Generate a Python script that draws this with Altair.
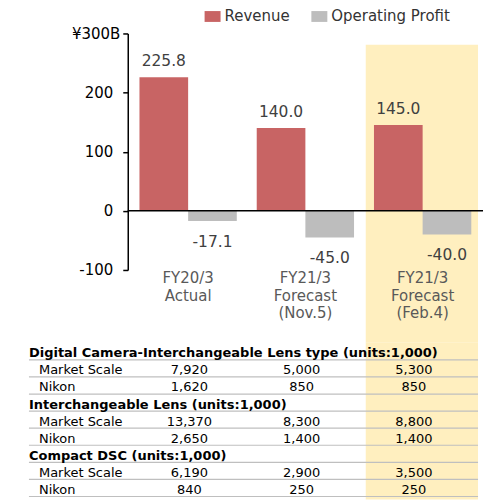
import altair as alt
import pandas as pd

# ---------------- data ----------------
periods = ["FY20/3\nActual", "FY21/3\nForecast\n(Nov.5)", "FY21/3\nForecast\n(Feb.4)"]
series = ["Revenue", "Operating Profit"]
revenue = [225.8, 140.0, 145.0]
operating_profit = [-17.1, -45.0, -40.0]
y_ticks = [-100, 0, 100, 200, 300]
y_top_label = "¥300B"
highlight_period = periods[2]
highlight_top = 281

sections = ["Digital Camera-Interchangeable Lens type", "Interchangeable Lens", "Compact DSC"]
units_note = "(units:1,000)"
sub_rows = ["Market Scale", "Nikon"]
market_scale = [[7920, 5000, 5300], [13370, 8300, 8800], [6190, 2900, 3500]]
nikon_units = [[1620, 850, 850], [2650, 1400, 1400], [840, 250, 250]]

# ---------------- styles ----------------
FONT = "DejaVu Sans"
bar_colors = ["#C86464", "#BDBDBD"]
yellow = "#FFEFBF"
line_gray = "#BFBFBF"
W, H = 356, 237

bars_df = pd.DataFrame({
    "period": periods * 2,
    "series": [series[0]] * len(periods) + [series[1]] * len(periods),
    "value": revenue + operating_profit,
})

rows = []
r = 0
for s, name in enumerate(sections):
    rows.append({"row": r, "kind": "header", "col": "label", "text": f"{name} {units_note}"})
    r += 1
    for label, vals in zip(sub_rows, [market_scale[s], nikon_units[s]]):
        rows.append({"row": r, "kind": "sub", "col": "label", "text": label})
        for p, v in zip(periods, vals):
            rows.append({"row": r, "kind": "num", "col": p, "text": f"{v:,}"})
        r += 1
table_df = pd.DataFrame(rows)
row_ids = list(range(r))
cols = ["label"] + periods

hl_df = pd.DataFrame({"col": [highlight_period]})
zero_df = pd.DataFrame({"base": [0]})
rows_df = pd.DataFrame({"row": row_ids})

col_scale = alt.Scale(domain=cols, range=[-99, 351], paddingInner=0, paddingOuter=0)
row_scale = alt.Scale(domain=row_ids, paddingInner=0, paddingOuter=0)

# ---------------- top: bar chart ----------------
y_scale = alt.Scale(domain=[-100, 300], nice=False, zero=False)
y_axis = alt.Axis(
    title=None, values=y_ticks, grid=False,
    labelExpr=f"datum.value == 300 ? '{y_top_label}' : datum.label",
    domainColor="black", domainWidth=1.5, tickColor="black", tickSize=5, tickWidth=1.5,
    labelColor="black", labelFont=FONT, labelFontSize=15,
    labelPadding={"condition": {"test": "datum.value == 300", "value": 3}, "value": 10},
)
x_enc = alt.X(
    "period:N", sort=periods,
    scale=alt.Scale(domain=periods, paddingInner=0.17, paddingOuter=0.1),
    axis=alt.Axis(
        title=None, labelExpr="split(datum.label, '\\n')", labelAngle=0,
        labelFont=FONT, labelFontSize=15, labelColor="#595959", labelLineHeight=17.5,
        labelPadding=1, ticks=False, tickSize=0, domain=False,
        labelOverlap=False, labelBound=False, labelFlush=False, zindex=2,
    ),
)
xoff = alt.XOffset("series:N", scale=alt.Scale(domain=series, paddingInner=0, paddingOuter=0))

legend = alt.Legend(
    title=None, orient="none", legendX=77, legendY=-25, direction="horizontal",
    symbolType="M-1,-0.68L1,-0.68L1,0.68L-1,0.68Z", symbolSize=256, symbolStrokeWidth=0,
    labelFont=FONT, labelFontSize=15, labelColor="#333333", columnPadding=21,
    labelOffset=4, padding=0,
)

hl_top = alt.Chart(hl_df).mark_rect(color=yellow).encode(
    x=alt.X("col:N", scale=col_scale, axis=None),
    y=alt.YDatum(highlight_top, axis=y_axis, scale=y_scale),
    y2=alt.value(310),
)

bars = alt.Chart(bars_df).mark_bar().encode(
    x=x_enc, xOffset=xoff,
    y=alt.Y("value:Q", scale=y_scale, axis=y_axis),
    color=alt.Color("series:N", scale=alt.Scale(domain=series, range=bar_colors), legend=legend),
)
zero = alt.Chart(zero_df).mark_rule(color="black", strokeWidth=1.5).encode(
    y=alt.Y("base:Q", scale=y_scale, axis=y_axis)
)
pos_labels = alt.Chart(bars_df).transform_filter("datum.value >= 0").mark_text(
    font=FONT, fontSize=15.5, color="#404040", dy=-11.5, baseline="alphabetic"
).encode(x=x_enc, xOffset=xoff, y=alt.Y("value:Q", scale=y_scale, axis=y_axis),
         text=alt.Text("value:Q", format=".1f"))
neg_labels = alt.Chart(bars_df).transform_filter("datum.value < 0").mark_text(
    font=FONT, fontSize=15.5, color="#404040", dy=26, baseline="alphabetic"
).encode(x=x_enc, xOffset=xoff, y=alt.Y("value:Q", scale=y_scale, axis=y_axis),
         text=alt.Text("value:Q", format=".1f"))

inner = alt.layer(bars, zero, pos_labels, neg_labels)
top = alt.layer(hl_top, inner).resolve_scale(x="independent").properties(width=W, height=H)

# ---------------- bottom: table ----------------
y_row = alt.Y("row:O", scale=row_scale, axis=None)
x_col = dict(scale=col_scale, axis=None)

hl_tab = alt.Chart(hl_df).mark_rect(color=yellow).encode(
    x=alt.X("col:N", **x_col), y=alt.value(0), y2=alt.value(157)
)
rules = alt.Chart(rows_df).mark_rule(color=line_gray, strokeWidth=1.2).encode(
    x=alt.XDatum(cols[0], type="nominal", scale=col_scale, axis=None, bandPosition=0),
    x2=alt.X2Datum(cols[-1], bandPosition=1),
    y=alt.Y("row:O", scale=row_scale, axis=None, bandPosition=1),
)
hdr = alt.Chart(table_df).transform_filter("datum.kind == 'header'").mark_text(
    font=FONT, fontSize=13, fontWeight="bold", align="left", baseline="middle", dy=2, color="black"
).encode(x=alt.X("col:N", bandPosition=0, **x_col), y=y_row, text="text:N")
sub = alt.Chart(table_df).transform_filter("datum.kind == 'sub'").mark_text(
    font=FONT, fontSize=13, align="left", baseline="middle", dy=2, dx=10, color="black"
).encode(x=alt.X("col:N", bandPosition=0, **x_col), y=y_row, text="text:N")
num = alt.Chart(table_df).transform_filter("datum.kind == 'num'").mark_text(
    font=FONT, fontSize=13, align="center", baseline="middle", dy=2, dx=-8, color="black"
).encode(x=alt.X("col:N", **x_col), y=y_row, text="text:N")

table = alt.layer(hl_tab, rules, hdr, sub, num).properties(width=W, height=154)

chart = alt.vconcat(top, table, spacing=0).properties(
    padding={"left": 20, "top": 0, "right": 5, "bottom": 0}
).configure(
    locale={"number": {"decimal": ".", "thousands": ",", "grouping": [3],
                       "currency": ["$", ""], "minus": "-"}}
).configure_view(stroke=None)

chart.save("out.html", embed_options={"renderer": "svg", "actions": False})
